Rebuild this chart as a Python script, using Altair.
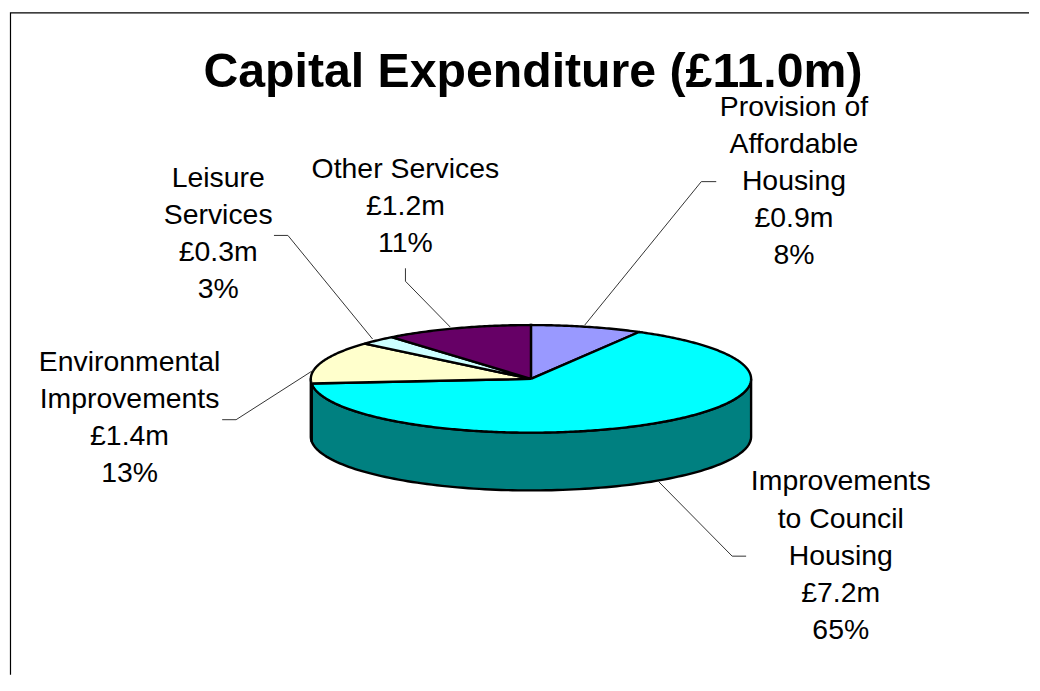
import math
import altair as alt
import pandas as pd

# ---- chart values ----
TITLE = "Capital Expenditure (£11.0m)"
CATEGORIES = ["Provision of\nAffordable\nHousing", "Improvements\nto Council\nHousing",
              "Environmental\nImprovements", "Leisure\nServices", "Other Services"]
VALUES = [0.9, 7.2, 1.4, 0.3, 1.2]
VALUE_LABELS = ["£0.9m", "£7.2m", "£1.4m", "£0.3m", "£1.2m"]
PERCENT_LABELS = ["8%", "65%", "13%", "3%", "11%"]
TOP_COLOURS = ["#9999FF", "#00FFFF", "#FFFFCC", "#CCFFFF", "#660066"]
SIDE_COLOURS = ["#4C4C80", "#008080", "#808066", "#668080", "#330033"]

# ---- layout (page pixels) ----
W, H = 1023, 668
CX, CY, RX, RY, DEPTH = 531, 379, 221, 54, 58
LABEL_X = [795, 842, 128, 217, 405]
LABEL_Y = [106, 482, 362, 177, 168]
LEADERS = [
    [(585, 325), (702, 181), (717, 181)],
    [(659, 482), (733, 557), (747, 557)],
    [(313, 370), (235, 420), (221, 420)],
    [(372, 339), (287, 235), (273, 235)],
    [(450, 327), (405, 281), (405, 268)],
]
FONT = "Liberation Sans"

xs = alt.Scale(domain=[8, 8 + W], nice=False, zero=False)
ys = alt.Scale(domain=[8, 8 + H], nice=False, zero=False, reverse=True)


def poly(points, fill=None, stroke="black", width=2.0, join="round"):
    df = pd.DataFrame(points, columns=["x", "y"]).assign(i=range(len(points)))
    kw = dict(stroke=stroke, strokeWidth=width, strokeJoin=join, clip=False)
    if fill:
        kw["fill"] = fill
    return alt.Chart(df).mark_line(**kw).encode(
        x=alt.X("x:Q", scale=xs, axis=None),
        y=alt.Y("y:Q", scale=ys, axis=None),
        order="i:Q",
    )


def ell(t, dy=0):
    r = math.radians(t)
    return (CX + RX * math.sin(r), CY - RY * math.cos(r) + dy)


total = sum(VALUES)
angles = [0]
for v in VALUES:
    angles.append(angles[-1] + v / total * 360)

layers = [poly([(8.5, 8 + H), (8.5, 11.5), (8 + W, 11.5)], width=1.2, join="miter")]

# extruded rim: only the part of the ellipse that faces the viewer
for i in range(len(VALUES)):
    a, b = max(angles[i], 90), min(angles[i + 1], 270)
    if b <= a:
        continue
    ts = [a + (b - a) * k / 120 for k in range(121)]
    pts = [ell(t) for t in ts] + [ell(t, DEPTH) for t in reversed(ts)]
    pts.append(pts[0])
    layers.append(poly(pts, fill=SIDE_COLOURS[i], width=2.4))

# top face
for i in range(len(VALUES)):
    a, b = angles[i], angles[i + 1]
    n = max(8, int((b - a) * 1.5))
    pts = [(CX, CY)] + [ell(a + (b - a) * k / n) for k in range(n + 1)] + [(CX, CY)]
    layers.append(poly(pts, fill=TOP_COLOURS[i], width=2.4, join="miter"))

for leader in LEADERS:
    layers.append(poly(leader, stroke="#333333", width=1.0, join="miter"))

labels = pd.DataFrame({
    "text": [f"{c}\n{v}\n{p}" for c, v, p in zip(CATEGORIES, VALUE_LABELS, PERCENT_LABELS)],
    "x": LABEL_X,
    "y": LABEL_Y,
})
layers.append(alt.Chart(labels).mark_text(
    font=FONT, fontSize=28.5, lineHeight=37.3, lineBreak="\n",
    align="center", baseline="middle", color="black",
).encode(
    x=alt.X("x:Q", scale=xs, axis=None),
    y=alt.Y("y:Q", scale=ys, axis=None),
    text="text:N",
))

title_df = pd.DataFrame({"text": [TITLE], "x": [533], "y": [71]})
layers.append(alt.Chart(title_df).mark_text(
    font=FONT, fontSize=48.4, fontWeight="bold", align="center", baseline="middle", color="black",
).encode(
    x=alt.X("x:Q", scale=xs, axis=None),
    y=alt.Y("y:Q", scale=ys, axis=None),
    text="text:N",
))

chart = alt.layer(*layers).properties(
    width=W, height=H, padding=0, background="white",
).configure_view(stroke=None)

chart.save("out.html", embed_options={"renderer": "svg", "actions": False})
